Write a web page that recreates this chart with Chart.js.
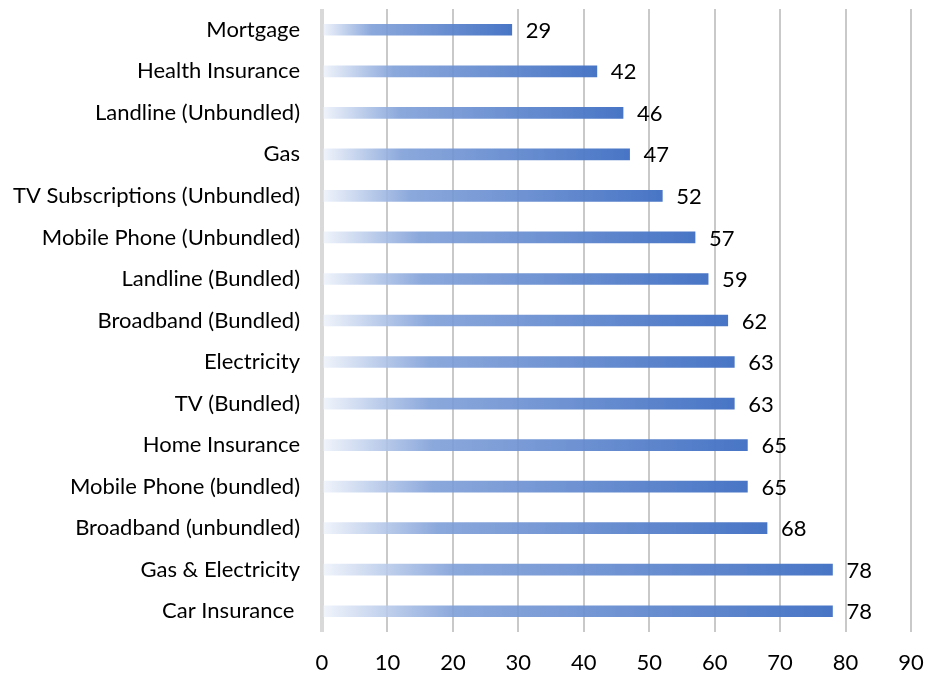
<!DOCTYPE html>
<html>
<head>
<meta charset="utf-8">
<script src="https://cdn.jsdelivr.net/npm/chart.js@4"></script>
<style>
  html, body { margin: 0; padding: 0; background: #fff; }
  #wrap { width: 927px; height: 675px; }
</style>
</head>
<body>
<div id="wrap"><canvas id="Chart"></canvas></div>
<script>
// Categories, top to bottom
var categories = [
    'Mortgage', 'Health Insurance', 'Landline (Unbundled)', 'Gas',
    'TV Subscriptions (Unbundled)', 'Mobile Phone (Unbundled)', 'Landline (Bundled)',
    'Broadband (Bundled)', 'Electricity', 'TV (Bundled)', 'Home Insurance',
    'Mobile Phone (bundled)', 'Broadband (unbundled)', 'Gas & Electricity', 'Car Insurance '
];

// Values for each category
var values = [29, 42, 46, 47, 52, 57, 59, 62, 63, 63, 65, 65, 68, 78, 78];

// Axis range and step
var axisMin = 0;
var axisMax = 90;
var axisStep = 10;

var fontFamily = 'Lato, "Open Sans", sans-serif';
var fontSize = 22;

// Horizontal fade from white to blue along each bar
function barGradient(c) {
    var chart = c.chart;
    if (!chart.chartArea || c.type !== 'data') return 'rgba(68,114,196,0.9)';
    var xs = chart.scales.x;
    var x0 = xs.getPixelForValue(0);
    var x1 = xs.getPixelForValue(c.raw);
    var g = chart.ctx.createLinearGradient(x0, 0, x1, 0);
    g.addColorStop(0, 'rgba(240,244,251,0.9)');
    g.addColorStop(0.26, 'rgba(127,159,216,0.9)');
    g.addColorStop(1, 'rgba(68,114,196,0.98)');
    return g;
}

// Value printed just right of each bar
var valueLabels = {
    id: 'valueLabels',
    afterDatasetsDraw: function (chart) {
        var ctx = chart.ctx;
        var meta = chart.getDatasetMeta(0);
        ctx.save();
        ctx.font = fontSize + 'px ' + fontFamily;
        ctx.fillStyle = '#000';
        ctx.textBaseline = 'middle';
        ctx.textAlign = 'left';
        meta.data.forEach(function (bar, i) {
            ctx.fillText(String(values[i]), bar.x + 14, bar.y + 1);
        });
        ctx.restore();
    }
};

var config = {
    type: 'bar',
    data: {
        labels: categories,
        datasets: [{
            data: values,
            backgroundColor: barGradient,
            borderWidth: 0,
            barThickness: 11
        }]
    },
    options: {
        indexAxis: 'y',
        responsive: true,
        maintainAspectRatio: false,
        animation: false,
        layout: { padding: { top: 9, right: 16, left: 0, bottom: 0 } },
        plugins: {
            legend: { display: false },
            tooltip: { enabled: false }
        },
        scales: {
            x: {
                min: axisMin,
                max: axisMax,
                ticks: {
                    stepSize: axisStep,
                    color: '#000',
                    padding: 18,
                    font: { family: fontFamily, size: fontSize }
                },
                grid: {
                    drawTicks: false,
                    color: function (c) { return c.tick && c.tick.value === 0 ? '#d9d9d9' : '#c9c9c9'; },
                    lineWidth: function (c) { return c.tick && c.tick.value === 0 ? 4 : 2; }
                },
                border: { display: false },
                afterFit: function (scale) {
                    scale.height = 43;
                    scale.paddingLeft = 0;
                    scale.paddingRight = 0;
                }
            },
            y: {
                ticks: {
                    color: '#000',
                    padding: 22,
                    font: { family: fontFamily, size: fontSize }
                },
                grid: { display: false, drawTicks: false },
                border: { display: false },
                afterFit: function (scale) {
                    scale.width = 322;
                    scale.paddingTop = 0;
                    scale.paddingBottom = 0;
                }
            }
        }
    },
    plugins: [valueLabels]
};

var ctx = document.getElementById('Chart').getContext('2d');
var myChart = new Chart(ctx, config);
</script>
</body>
</html>
